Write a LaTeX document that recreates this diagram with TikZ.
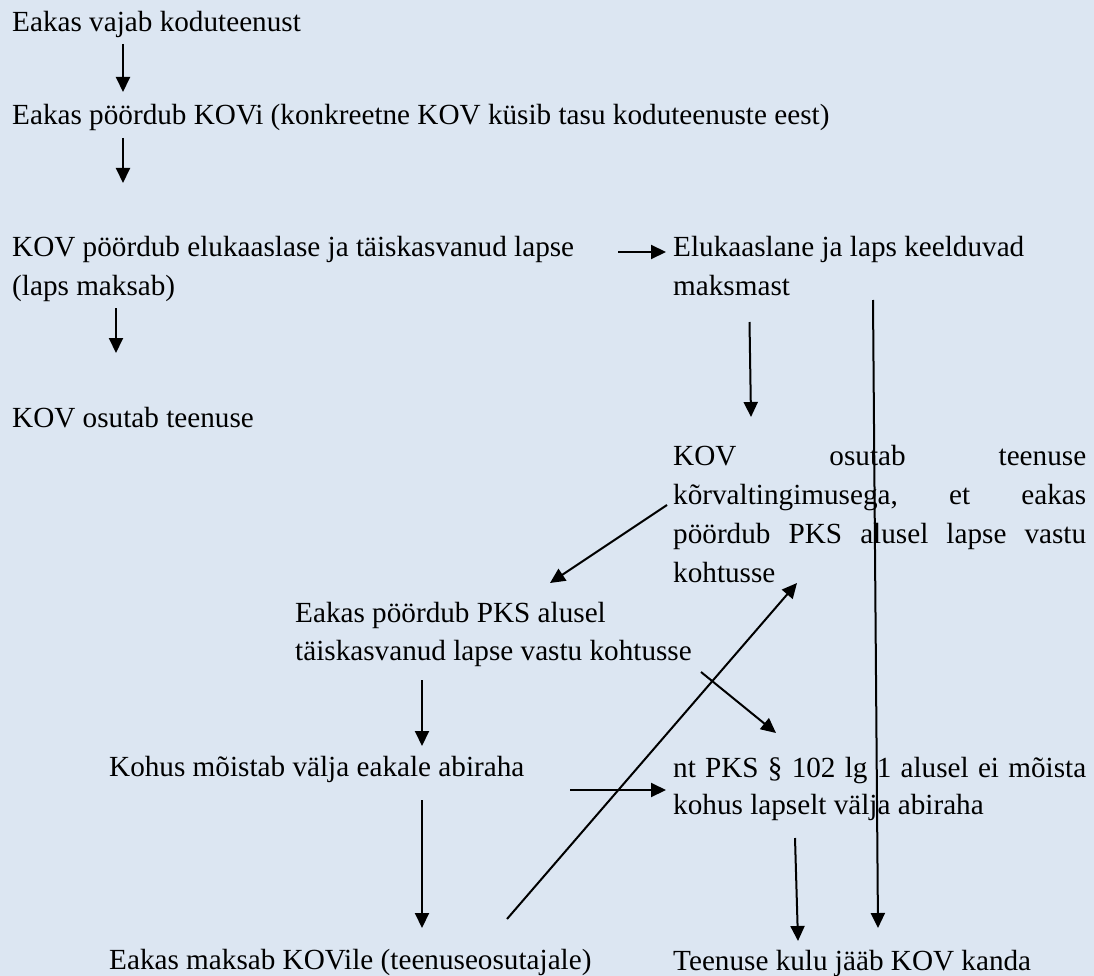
\documentclass[tikz,border=0pt]{standalone}
\usepackage{fontspec}
\setmainfont{Liberation Serif}
\usetikzlibrary{arrows.meta}
\definecolor{bgblue}{RGB}{220,230,242}
\begin{document}
\begin{tikzpicture}[x=1pt,y=-1pt,
  txt/.style={anchor=base west, inner sep=0pt, font=\fontsize{29.2}{36}\selectfont},
  arr/.style={line width=2pt, -{Triangle[length=15pt,width=14pt]}}]
\fill[bgblue] (0,0) rectangle (1094,976);
\useasboundingbox (0,0) rectangle (1094,976);

% texts
\node[txt] (t1) at (12,32) {Eakas vajab koduteenust};
\node[txt] (t2) at (12,125) {Eakas pöördub KOVi (konkreetne KOV küsib tasu koduteenuste eest)};
\node[txt] (t3a) at (12,257) {KOV pöördub elukaaslase ja täiskasvanud lapse};
\node[txt] (t3b) at (12,295) {(laps maksab)};
\node[txt] (t4) at (12,427) {KOV osutab teenuse};
\node[txt] (t5a) at (673,257) {Elukaaslane ja laps keelduvad};
\node[txt] (t5b) at (673,295) {maksmast};
\node[txt] (t6a) at (673,465) {\hbox to 413pt{KOV\hfill osutab\hfill teenuse}};
\node[txt] (t6b) at (673,504) {\hbox to 413pt{kõrvaltingimusega,\hfill et\hfill eakas}};
\node[txt] (t6c) at (673,543) {\hbox to 413pt{pöördub\hfill PKS\hfill alusel\hfill lapse\hfill vastu}};
\node[txt] (t6d) at (673,582) {kohtusse};
\node[txt] (t7a) at (295,622) {Eakas pöördub PKS alusel};
\node[txt] (t7b) at (295,660) {täiskasvanud lapse vastu kohtusse};
\node[txt] (t8) at (109,776) {Kohus mõistab välja eakale abiraha};
\node[txt] (t9a) at (673,777) {\hbox to 413pt{nt\hfill PKS\hfill §\hfill 102\hfill lg\hfill 1\hfill alusel\hfill ei\hfill mõista}};
\node[txt] (t9b) at (673,814) {kohus lapselt välja abiraha};
\node[txt] (t10) at (109,969) {Eakas maksab KOVile (teenuseosutajale)};
\node[txt] (t11) at (673,970) {Teenuse kulu jääb KOV kanda};

% connector end points
\coordinate (a1s) at (123,44);   \coordinate (a1e) at (123,92);
\coordinate (a2s) at (123,138);  \coordinate (a2e) at (123,183);
\coordinate (a3s) at (116,308);  \coordinate (a3e) at (116,353);
\coordinate (a4s) at (618,252);  \coordinate (a4e) at (666,252);
\coordinate (a5s) at (749.5,322);\coordinate (a5e) at (751,417);
\coordinate (a6s) at (873,300);  \coordinate (a6e) at (878,928);
\coordinate (a7s) at (667,505);  \coordinate (a7e) at (550,583);
\coordinate (a8s) at (422,680);  \coordinate (a8e) at (422,746);
\coordinate (a9s) at (701,672);  \coordinate (a9e) at (776,733);
\coordinate (a10s) at (507,919); \coordinate (a10e) at (797,583);
\coordinate (a11s) at (570,790); \coordinate (a11e) at (666,790);
\coordinate (a12s) at (422,800); \coordinate (a12e) at (422,928);
\coordinate (a13s) at (795,838); \coordinate (a13e) at (798,941);

% connectors
\draw[arr] (a1s) -- (a1e);
\draw[arr] (a2s) -- (a2e);
\draw[arr] (a3s) -- (a3e);
\draw[arr] (a4s) -- (a4e);
\draw[arr] (a5s) -- (a5e);
\draw[arr] (a6s) -- (a6e);
\draw[arr] (a7s) -- (a7e);
\draw[arr] (a8s) -- (a8e);
\draw[arr] (a9s) -- (a9e);
\draw[arr] (a10s) -- (a10e);
\draw[arr] (a11s) -- (a11e);
\draw[arr] (a12s) -- (a12e);
\draw[arr] (a13s) -- (a13e);
\end{tikzpicture}
\end{document}
